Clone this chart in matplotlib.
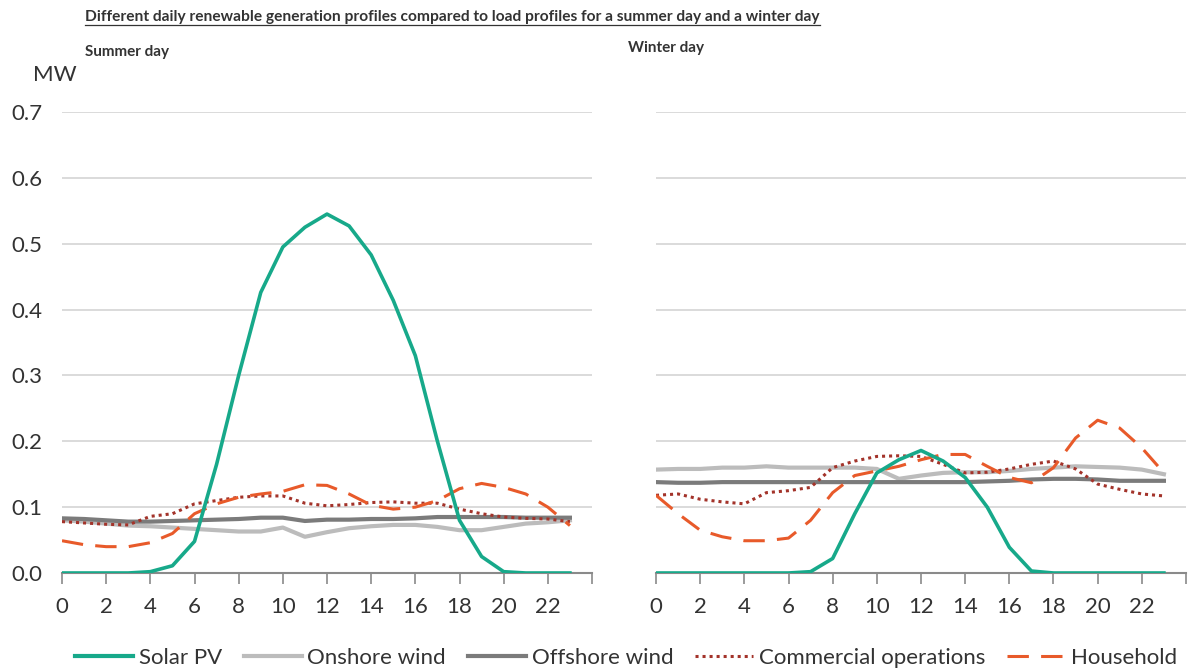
import numpy as np
import matplotlib.pyplot as plt
from matplotlib.lines import Line2D

plt.rcParams['font.family'] = ['Lato', 'DejaVu Sans']

hours = list(range(24))

# Summer day profiles (MW)
summer_solar = [0, 0, 0, 0, 0.002, 0.011, 0.048, 0.165, 0.30, 0.426, 0.495, 0.525,
                0.545, 0.527, 0.483, 0.414, 0.33, 0.20, 0.08, 0.025, 0.002, 0, 0, 0]
summer_onshore = [0.080, 0.078, 0.075, 0.072, 0.071, 0.069, 0.067, 0.065, 0.063, 0.063, 0.069, 0.055,
                  0.062, 0.068, 0.071, 0.073, 0.073, 0.070, 0.065, 0.065, 0.070, 0.075, 0.077, 0.080]
summer_offshore = [0.083, 0.082, 0.080, 0.078, 0.078, 0.079, 0.080, 0.081, 0.082, 0.084, 0.084, 0.079,
                   0.081, 0.081, 0.082, 0.082, 0.083, 0.085, 0.085, 0.085, 0.085, 0.084, 0.084, 0.084]
summer_commercial = [0.078, 0.076, 0.074, 0.073, 0.086, 0.090, 0.105, 0.110, 0.115, 0.117, 0.117, 0.106,
                     0.102, 0.104, 0.107, 0.108, 0.106, 0.106, 0.097, 0.090, 0.085, 0.083, 0.082, 0.078]
summer_household = [0.049, 0.043, 0.040, 0.040, 0.046, 0.060, 0.090, 0.105, 0.115, 0.120, 0.124, 0.134,
                    0.133, 0.120, 0.103, 0.097, 0.100, 0.110, 0.128, 0.136, 0.130, 0.120, 0.100, 0.072]

# Winter day profiles (MW)
winter_solar = [0, 0, 0, 0, 0, 0, 0, 0.002, 0.022, 0.090, 0.152, 0.172,
                0.186, 0.170, 0.145, 0.100, 0.039, 0.003, 0, 0, 0, 0, 0, 0]
winter_onshore = [0.157, 0.158, 0.158, 0.160, 0.160, 0.162, 0.160, 0.160, 0.160, 0.160, 0.158, 0.143,
                  0.148, 0.152, 0.153, 0.153, 0.155, 0.158, 0.160, 0.162, 0.161, 0.160, 0.157, 0.150]
winter_offshore = [0.138, 0.137, 0.137, 0.138, 0.138, 0.138, 0.138, 0.138, 0.138, 0.138, 0.138, 0.138,
                   0.138, 0.138, 0.138, 0.139, 0.140, 0.142, 0.143, 0.143, 0.142, 0.140, 0.140, 0.140]
winter_commercial = [0.118, 0.120, 0.112, 0.108, 0.105, 0.122, 0.125, 0.130, 0.160, 0.170, 0.177, 0.178,
                     0.177, 0.165, 0.152, 0.153, 0.158, 0.165, 0.170, 0.158, 0.135, 0.127, 0.120, 0.117]
winter_household = [0.118, 0.090, 0.065, 0.055, 0.049, 0.049, 0.053, 0.080, 0.122, 0.148, 0.155, 0.162,
                    0.172, 0.180, 0.180, 0.162, 0.145, 0.137, 0.160, 0.205, 0.232, 0.220, 0.190, 0.152]

xticks = list(range(0, 25, 2))
xticklabels = [str(t) for t in range(0, 23, 2)] + ['']
yticks = [0.0, 0.1, 0.2, 0.3, 0.4, 0.5, 0.6, 0.7]

c_solar = '#17a98a'
c_on = '#bcbcbc'
c_off = '#7b7b7b'
c_comm = '#a3332a'
c_house = '#e85a2a'

W, H = 1196, 670
fig = plt.figure(figsize=(W / 100, H / 100), dpi=100)

def px_axes(x0, x1, y0, y1):
    return fig.add_axes([x0 / W, (H - y0) / H, (x1 - x0) / W, (y0 - y1) / H])

ax1 = px_axes(62, 592, 573, 112)
ax2 = px_axes(656, 1186, 573, 112)

def draw(ax, solar, on, off, comm, house, show_y):
    ax.plot(hours, on, color=c_on, lw=3, label='Onshore wind', zorder=3)
    ax.plot(hours, off, color=c_off, lw=3, label='Offshore wind', zorder=3)
    ax.plot(hours, comm, color=c_comm, lw=2.2, ls=(0, (1, 1.3)), label='Commercial operations', zorder=4)
    ax.plot(hours, house, color=c_house, lw=2.2, ls=(0, (7, 4)), label='Household', zorder=4)
    ax.plot(hours, solar, color=c_solar, lw=2.6, label='Solar PV', zorder=5)
    ax.set_xlim(0, 24)
    ax.set_ylim(0, 0.7)
    ax.set_yticks(yticks)
    ax.set_xticks(xticks)
    ax.set_xticklabels(xticklabels)
    ax.grid(axis='y', color='#d4d4d4', lw=1.2)
    ax.set_axisbelow(True)
    for s in ['left', 'right', 'top']:
        ax.spines[s].set_visible(False)
    ax.spines['bottom'].set_color('#8a8a8a')
    ax.spines['bottom'].set_linewidth(1.5)
    ax.tick_params(axis='x', direction='out', length=8, width=1.2, color='#8a8a8a',
                   labelsize=16, labelcolor='#333333', pad=9)
    ax.tick_params(axis='y', length=0, labelsize=16, labelcolor='#333333', pad=14)
    if show_y:
        ax.set_yticklabels([f'{v:.1f}' for v in yticks])
    else:
        ax.set_yticklabels([])

draw(ax1, summer_solar, summer_onshore, summer_offshore, summer_commercial, summer_household, True)
draw(ax2, winter_solar, winter_onshore, winter_offshore, winter_commercial, winter_household, False)

fig.text(33 / W, 1 - 75 / H, 'MW', fontsize=16, color='#333333', va='center', ha='left')
fig.text(85 / W, 1 - 52 / H, 'Summer day', fontsize=11, fontweight='bold', color='#333333', va='center')
fig.text(628 / W, 1 - 48 / H, 'Winter day', fontsize=11, fontweight='bold', color='#333333', va='center')

title = fig.text(85 / W, 1 - 17 / H,
                 'Different daily renewable generation profiles compared to load profiles for a summer day and a winter day',
                 fontsize=11.2, fontweight='bold', color='#333333', va='center')
fig.canvas.draw()
bb = title.get_window_extent().transformed(fig.transFigure.inverted())
fig.add_artist(Line2D([bb.x0, bb.x1], [bb.y0 - 0.002, bb.y0 - 0.002], transform=fig.transFigure,
                      color='#333333', lw=0.9))

handles = [
    Line2D([], [], color=c_solar, lw=3),
    Line2D([], [], color=c_on, lw=3),
    Line2D([], [], color=c_off, lw=3),
    Line2D([], [], color=c_comm, lw=2.2, ls=(0, (1, 1.3))),
    Line2D([], [], color=c_house, lw=2.2, ls=(0, (7, 4))),
]
labels = ['Solar PV', 'Onshore wind', 'Offshore wind', 'Commercial operations', 'Household']
fig.legend(handles, labels, loc='center', bbox_to_anchor=(626 / W, 1 - 658 / H), ncol=5,
           frameon=False, fontsize=16, handlelength=2.6, handletextpad=0.25, columnspacing=1.0,
           labelcolor='#333333')

fig.savefig('out.png', dpi=100)
